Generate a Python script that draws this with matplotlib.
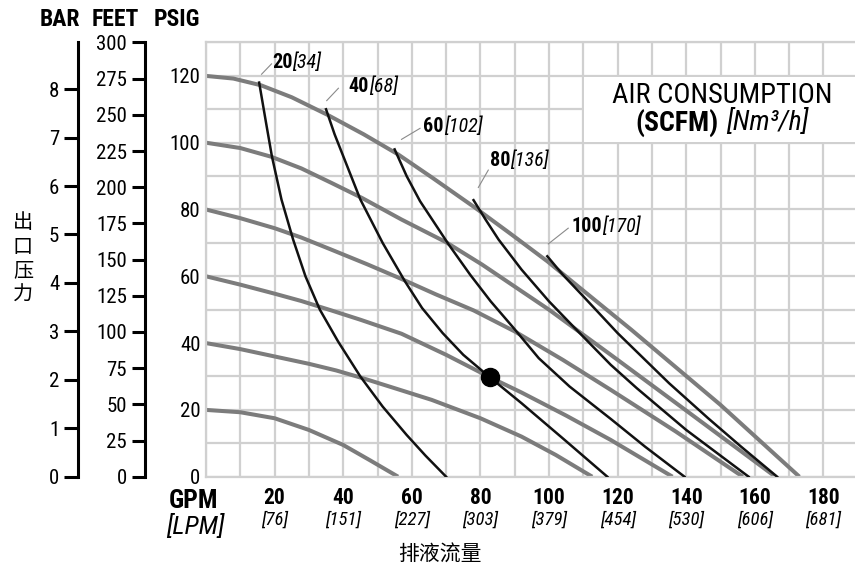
import numpy as np
import matplotlib
matplotlib.use("Agg")
import matplotlib.pyplot as plt
from matplotlib.patches import Rectangle

# --- дані ---
gpm_ticks = [20, 40, 60, 80, 100, 120, 140, 160, 180]
lpm_labels = ["[76]", "[151]", "[227]", "[303]", "[379]", "[454]", "[530]", "[606]", "[681]"]
psig_ticks = [0, 20, 40, 60, 80, 100, 120]
feet_ticks = [0, 25, 50, 75, 100, 125, 150, 175, 200, 225, 250, 275, 300]
bar_ticks = [0, 1, 2, 3, 4, 5, 6, 7, 8]

# сірі криві (тиск повітря на вході, psig)
p20_x = [0, 10, 20, 30, 40, 48, 56]
p20_y = [20, 19.3, 17.5, 14, 9.5, 4.8, 0]
p40_x = [0, 10, 20, 30, 38, 46, 55, 65.8, 80, 92, 102, 112.6]
p40_y = [40, 38.2, 36, 33.8, 31.8, 29.4, 26.5, 23, 17.5, 12, 6.5, 0]
p60_x = [0, 10, 20, 27.8, 36.5, 45, 57, 70, 82.7, 92, 105, 118, 136]
p60_y = [60, 57.5, 54.8, 52.6, 49.8, 47, 42.8, 36.5, 29.8, 25.2, 18.3, 11, 0]
p80_x = [0, 10, 20, 27.8, 36.5, 47, 57, 67, 78, 90, 104, 118, 137, 156.5]
p80_y = [80, 77.4, 74.4, 71.6, 68, 63.6, 59.2, 54.6, 49.8, 43.5, 35, 26, 13.5, 0]
p100_x = [0, 10, 19, 27.8, 36.5, 45.4, 57, 70, 80.5, 100, 118, 140, 166]
p100_y = [100, 98.4, 95.8, 92.3, 88, 83.5, 77, 70.2, 63.5, 50, 36.5, 19.8, 0]
p120_x = [0, 8, 16, 25, 35.5, 46, 56, 66, 78.5, 88.7, 99.5, 124, 150, 173]
p120_y = [120, 119.2, 117.2, 113.6, 108.3, 102.5, 96.5, 89.5, 80.5, 72.8, 64.5, 44, 21.5, 0]

# чорні криві (витрата повітря, SCFM)
a20_x = [15.5, 17.5, 19.2, 22, 25.4, 29, 33.2, 38.5, 45, 51.5, 58.5, 64, 70]
a20_y = [118, 106, 96, 83, 71, 60, 50, 40.5, 30, 21, 12.5, 6.3, 0]
a40_x = [35, 37.5, 40, 45, 51.5, 58, 63, 69, 75, 82.7, 92, 104, 117]
a40_y = [110, 102.5, 96, 83, 70, 58.5, 50.5, 43, 36.5, 29.8, 22, 11.5, 0]
a60_x = [55, 58.5, 62.4, 70.7, 77, 83, 89.7, 97, 106, 118, 128, 139.5]
a60_y = [98, 90, 82.5, 69.6, 60.5, 52.5, 44.5, 35.5, 27, 17.3, 9, 0]
a80_x = [78, 81.5, 85.3, 92, 100, 108, 118, 125.6, 140, 158.2]
a80_y = [82.8, 77, 71, 62, 52.5, 44, 33.5, 26.5, 14, 0]
a100_x = [99.5, 104, 110, 120, 135, 146.4, 156, 166.5]
a100_y = [66, 60.5, 54, 43, 28, 17.5, 9, 0]

air_bold = ["20", "40", "60", "80", "100"]
air_ital = ["[34]", "[68]", "[102]", "[136]", "[170]"]
label_xy = [(19.2, 124), (41.5, 116.8), (63.3, 104.8), (82.8, 94.8), (106.6, 75)]
leader_from = [(16.2, 120.5), (35.2, 112.6), (57, 101), (79.4, 86.6), (99.8, 69.7)]
leader_to = [(19.1, 123.6), (38.6, 116.3), (62.4, 104.3), (82.3, 91.8), (105.6, 74.4)]

dot_x = [82.7]
dot_y = [29.8]

ylabel_chars = ["出", "口", "压", "力"]

# --- шрифти ---
plt.rcParams["font.family"] = ["Liberation Sans Narrow", "Roboto Condensed", "Roboto", "DejaVu Sans"]
cjk = ["Noto Sans CJK SC", "DejaVu Sans"]

W, H = 855, 570
fig = plt.figure(figsize=(W / 100, H / 100), dpi=100)

bottom = (H - 476.7) / H
height = 434.2 / H
ax = fig.add_axes([206 / W, bottom, 649 / W, height])
ax.set_xlim(0, 649 / 3.43)
ax.set_ylim(0, 130)

grid_c = "#d0d0d0"
ax.set_xticks(np.arange(0, 190, 10))
ax.set_xticklabels([])
ax.set_yticks(psig_ticks)
ax.set_yticks(np.arange(10, 131, 20), minor=True)
ax.tick_params(axis="both", which="both", length=0)
ax.tick_params(axis="y", labelsize=15, pad=4)
ax.set_axisbelow(True)
ax.grid(True, which="both", color=grid_c, lw=1.6)
for s in ["left", "bottom", "top"]:
    ax.spines[s].set_color(grid_c)
    ax.spines[s].set_linewidth(1.6)
ax.spines["right"].set_visible(False)

# біла плашка під підписом
ax.add_patch(Rectangle((110.3, 100.3), 80, 19.4, fc="white", ec="none", zorder=1))

gray = "#7c7c7c"
for xs, ys in [(p20_x, p20_y), (p40_x, p40_y), (p60_x, p60_y),
               (p80_x, p80_y), (p100_x, p100_y), (p120_x, p120_y)]:
    ax.plot(xs, ys, color=gray, lw=2.9, solid_capstyle="butt", solid_joinstyle="round", zorder=2)

for xs, ys in [(a20_x, a20_y), (a40_x, a40_y), (a60_x, a60_y),
               (a80_x, a80_y), (a100_x, a100_y)]:
    ax.plot(xs, ys, color="#111111", lw=1.8, solid_joinstyle="round", zorder=3)

ax.plot(dot_x, dot_y, "o", color="black", ms=13, zorder=5)

# підписи кривих
for b, it, (tx, ty), p0, p1 in zip(air_bold, air_ital, label_xy, leader_from, leader_to):
    ax.plot([p0[0], p1[0]], [p0[1], p1[1]], color="#8a8a8a", lw=0.8, zorder=3)
    t = ax.text(tx, ty, b, fontsize=14.5, fontweight="bold", ha="left", va="center", zorder=4)
    ax.annotate(it, xy=(1, 0.5), xycoords=t, ha="left", va="center",
                fontsize=14.5, fontstyle="italic", zorder=4)

ax.text(150.4, 114, "AIR CONSUMPTION", fontsize=20.5, ha="center", va="center", zorder=4)
ax.text(149.5, 105.9, "(SCFM)", fontsize=20, fontweight="bold", ha="right", va="center", zorder=4)
ax.text(151.5, 105.9, "[Nm³/h]", fontsize=20, fontstyle="italic", ha="left", va="center", zorder=4)

# підписи осі X
tr = ax.get_xaxis_transform()
for g, l in zip(gpm_ticks, lpm_labels):
    ax.text(g, -0.048, str(g), transform=tr, ha="center", va="center",
            fontsize=15.5, fontweight="bold", clip_on=False)
    ax.text(g, -0.0997, l, transform=tr, ha="center", va="center",
            fontsize=13.5, fontstyle="italic", clip_on=False)
fig.text(193 / W, 1 - 501 / H, "GPM", fontsize=18.5, fontweight="bold", ha="center", va="center")
fig.text(195 / W, 1 - 526 / H, "[LPM]", fontsize=19, fontstyle="italic", ha="center", va="center")

# додаткові шкали FEET і BAR
def side_scale(xpix, top, ticks, tick_len):
    a = fig.add_axes([xpix / W, bottom, 1e-4, height])
    a.set_ylim(0, top)
    a.patch.set_visible(False)
    for s in ["right", "bottom", "top"]:
        a.spines[s].set_visible(False)
    a.spines["left"].set_linewidth(2.2)
    a.set_xticks([])
    a.set_yticks(ticks)
    a.tick_params(axis="y", direction="out", length=tick_len, width=2.2, labelsize=15, pad=3.5)
    return a

side_scale(145, 300, feet_ticks, 9.4)
side_scale(78, 130 / 14.5038, bar_ticks, 10)

for txt, xp in [("BAR", 60), ("FEET", 115), ("PSIG", 177)]:
    fig.text(xp / W, 1 - 19.5 / H, txt, fontsize=17, fontweight="bold", ha="center", va="center")

# вертикальний підпис: ієрогліфи один під одним
for i, ch in enumerate(ylabel_chars):
    fig.text(23 / W, 1 - (223 + 24 * i) / H, ch, family=cjk, fontsize=14.5,
             ha="center", va="center")
fig.text(440 / W, 1 - 555 / H, "排液流量", family=cjk, fontsize=15, ha="center", va="center")

fig.savefig("out.png", dpi=100)
